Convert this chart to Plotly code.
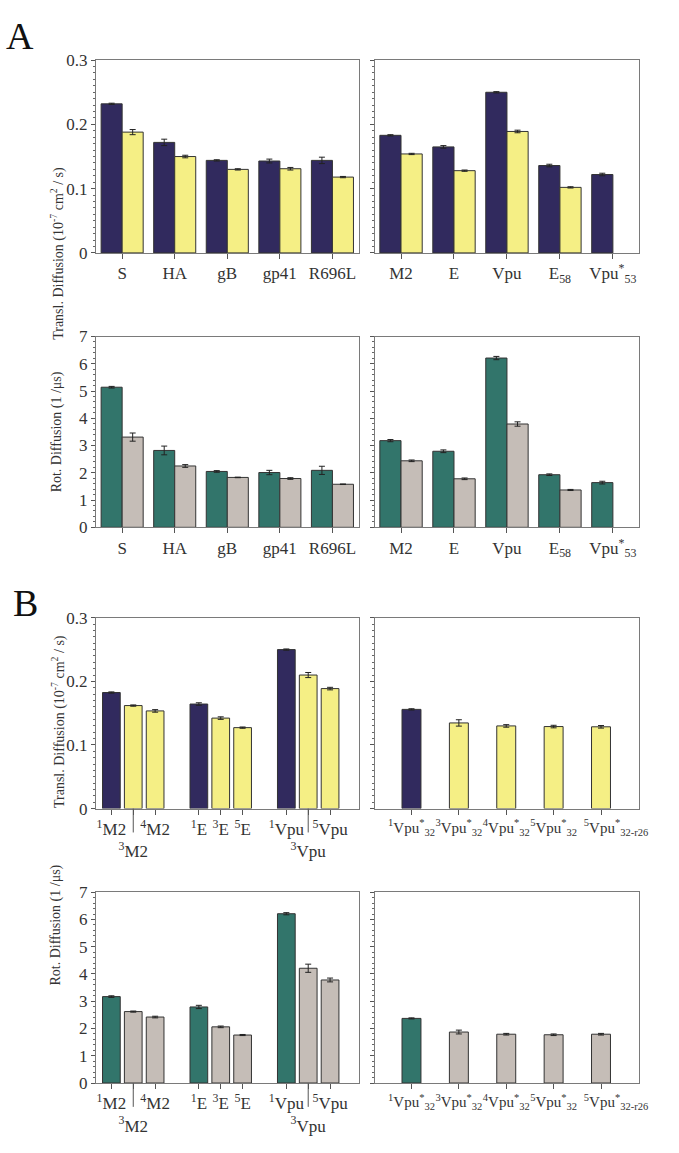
import plotly.graph_objects as go

# ---- data ----
a_left_cats = ["S", "HA", "gB", "gp41", "R696L"]
a_left_labels = ["S", "HA", "gB", "gp41", "R696L"]
a_right_cats = ["M2", "E", "Vpu", "E58", "Vpu*53"]
a_right_labels = ["M2", "E", "Vpu", "E<sub>58</sub>", "Vpu<sup>*</sup><sub>53</sub>"]

a_left_trans_mono = [0.232, 0.172, 0.144, 0.143, 0.144]
a_left_trans_mono_err = [0.001, 0.005, 0.001, 0.003, 0.005]
a_left_trans_olig = [0.188, 0.150, 0.130, 0.131, 0.118]
a_left_trans_olig_err = [0.004, 0.002, 0.001, 0.002, 0.001]
a_right_trans_mono = [0.183, 0.165, 0.250, 0.136, 0.122]
a_right_trans_mono_err = [0.001, 0.002, 0.001, 0.002, 0.002]
a_right_trans_olig = [0.154, 0.128, 0.189, 0.102, None]
a_right_trans_olig_err = [0.001, 0.001, 0.002, 0.001, 0]

a_left_rot_mono = [5.14, 2.82, 2.05, 2.01, 2.09]
a_left_rot_mono_err = [0.03, 0.16, 0.03, 0.08, 0.15]
a_left_rot_olig = [3.31, 2.25, 1.83, 1.79, 1.58]
a_left_rot_olig_err = [0.15, 0.05, 0.01, 0.03, 0.01]
a_right_rot_mono = [3.18, 2.79, 6.21, 1.93, 1.64]
a_right_rot_mono_err = [0.04, 0.05, 0.06, 0.03, 0.05]
a_right_rot_olig = [2.44, 1.78, 3.79, 1.37, None]
a_right_rot_olig_err = [0.03, 0.03, 0.08, 0.02, 0]

# B left: spacer categories keep the three groups apart
b_left_cats = ["1M2", "3M2", "4M2", "gap1", "1E", "3E", "5E", "gap2", "1Vpu", "3Vpu", "5Vpu"]
b_left_state = ["mono", "olig", "olig", None, "mono", "olig", "olig", None, "mono", "olig", "olig"]
b_left_ticks = ["1M2", "3M2", "4M2", "1E", "3E", "5E", "1Vpu", "3Vpu", "5Vpu"]
b_left_labels = ["<sup>1</sup>M2", "<br><sup>3</sup>M2", "<sup>4</sup>M2",
                 "<sup>1</sup>E", "<sup>3</sup>E", "<sup>5</sup>E",
                 "<sup>1</sup>Vpu", "<br><sup>3</sup>Vpu", "<sup>5</sup>Vpu"]
b_left_long_ticks = ["3M2", "3Vpu"]
b_left_trans = [0.1825, 0.162, 0.1536, None, 0.1644, 0.1423, 0.1273, None, 0.250, 0.210, 0.1887]
b_left_trans_err = [0.001, 0.001, 0.002, 0, 0.002, 0.002, 0.001, 0, 0.001, 0.004, 0.002]
b_left_rot = [3.17, 2.62, 2.42, None, 2.79, 2.06, 1.76, None, 6.21, 4.21, 3.78]
b_left_rot_err = [0.03, 0.02, 0.03, 0, 0.06, 0.03, 0.02, 0, 0.04, 0.15, 0.07]

b_right_cats = ["1Vpu*32", "3Vpu*32", "4Vpu*32", "5Vpu*32", "5Vpu*32-r26"]
b_right_state = ["mono", "olig", "olig", "olig", "olig"]
b_right_labels = ["<sup>1</sup>Vpu<sup>*</sup><sub>32</sub>", "<sup>3</sup>Vpu<sup>*</sup><sub>32</sub>",
                  "<sup>4</sup>Vpu<sup>*</sup><sub>32</sub>", "<sup>5</sup>Vpu<sup>*</sup><sub>32</sub>",
                  "&nbsp;" * 8 + "<sup>5</sup>Vpu<sup>*</sup><sub>32-r26</sub>"]
b_right_trans = [0.156, 0.1347, 0.130, 0.129, 0.1286]
b_right_trans_err = [0.001, 0.005, 0.002, 0.002, 0.002]
b_right_rot = [2.37, 1.87, 1.79, 1.77, 1.79]
b_right_rot_err = [0.02, 0.07, 0.03, 0.03, 0.03]

# ---- style ----
NAVY = "#312a5e"
YELLOW = "#f5ef85"
TEAL = "#32756b"
GRAY = "#c5bdb7"
LINE = "#7a7a7a"
FONT = "Liberation Serif"
W, H = 679, 1153

trans_colors = {"mono": NAVY, "olig": YELLOW, None: YELLOW}
rot_colors = {"mono": TEAL, "olig": GRAY, None: GRAY}


def px_x(a, b):
    return [a / W, b / W]


def px_y(top, bottom):
    return [1 - bottom / H, 1 - top / H]


x_left, x_right = px_x(97, 363), px_x(379, 647)
rows = [px_y(52, 248), px_y(333, 527), px_y(619, 813), px_y(898, 1092)]

fig = go.Figure()


def err(values):
    return dict(type="data", array=values, color="#222", thickness=1, width=3)


def bar(x, y, e, color, n, **kw):
    fig.add_trace(go.Bar(
        x=x, y=y, error_y=err(e),
        marker=dict(color=color, line=dict(color="#333", width=1)),
        xaxis=f"x{n}", yaxis=f"y{n}", showlegend=False, **kw,
    ))


# A: grouped monomer / oligomer pairs
bar(a_left_cats, a_left_trans_mono, a_left_trans_mono_err, NAVY, 1, offsetgroup="m")
bar(a_left_cats, a_left_trans_olig, a_left_trans_olig_err, YELLOW, 1, offsetgroup="o")
bar(a_right_cats, a_right_trans_mono, a_right_trans_mono_err, NAVY, 2, offsetgroup="m")
bar(a_right_cats, a_right_trans_olig, a_right_trans_olig_err, YELLOW, 2, offsetgroup="o")
bar(a_left_cats, a_left_rot_mono, a_left_rot_mono_err, TEAL, 3, offsetgroup="m")
bar(a_left_cats, a_left_rot_olig, a_left_rot_olig_err, GRAY, 3, offsetgroup="o")
bar(a_right_cats, a_right_rot_mono, a_right_rot_mono_err, TEAL, 4, offsetgroup="m")
bar(a_right_cats, a_right_rot_olig, a_right_rot_olig_err, GRAY, 4, offsetgroup="o")

# B: single bars, colour by state
bar(b_left_cats, b_left_trans, b_left_trans_err, [trans_colors[s] for s in b_left_state], 5, width=0.81)
bar(b_right_cats, b_right_trans, b_right_trans_err, [trans_colors[s] for s in b_right_state], 6, width=0.4)
bar(b_left_cats, b_left_rot, b_left_rot_err, [rot_colors[s] for s in b_left_state], 7, width=0.81)
bar(b_right_cats, b_right_rot, b_right_rot_err, [rot_colors[s] for s in b_right_state], 8, width=0.4)

tickfont = dict(family=FONT, size=17, color="#333")
small_tickfont = dict(family=FONT, size=15, color="#333")
panels = [
    # n, xdomain, ydomain, kind, cats, tickvals, ticktext, xrange
    (1, x_left, rows[0], "trans", a_left_cats, a_left_cats, a_left_labels, None),
    (2, x_right, rows[0], "trans", a_right_cats, a_right_cats, a_right_labels, None),
    (3, x_left, rows[1], "rot", a_left_cats, a_left_cats, a_left_labels, None),
    (4, x_right, rows[1], "rot", a_right_cats, a_right_cats, a_right_labels, None),
    (5, x_left, rows[2], "trans", b_left_cats, b_left_ticks, b_left_labels, [-0.71, 11.31]),
    (6, x_right, rows[2], "trans", b_right_cats, b_right_cats, b_right_labels, [-0.78, 4.81]),
    (7, x_left, rows[3], "rot", b_left_cats, b_left_ticks, b_left_labels, [-0.71, 11.31]),
    (8, x_right, rows[3], "rot", b_right_cats, b_right_cats, b_right_labels, [-0.78, 4.81]),
]

layout = {}
for n, xd, yd, kind, cats, tv, tt, xr in panels:
    xa = dict(domain=xd, anchor=f"y{n}", type="category", categoryorder="array",
              categoryarray=cats, tickvals=tv, ticktext=tt,
              tickfont=small_tickfont if n in (6, 8) else tickfont,
              tickangle=0, showline=True, linecolor=LINE, linewidth=1, mirror=True,
              ticks="outside", ticklen=5, tickcolor="#555", showgrid=False)
    if xr:
        xa["range"] = xr
    if kind == "trans":
        ya = dict(range=[0, 0.3], dtick=0.1,
                  minor=dict(dtick=0.01, ticks="outside", ticklen=2, tickcolor="#666"))
    else:
        ya = dict(range=[0, 7], dtick=1,
                  minor=dict(dtick=0.2, ticks="outside", ticklen=2, tickcolor="#666"))
    ya.update(domain=yd, anchor=f"x{n}", showline=True, linecolor=LINE, linewidth=1,
              mirror=True, ticks="outside", ticklen=4, tickcolor="#555",
              showgrid=False, zeroline=False, tickfont=tickfont,
              showticklabels=(xd == x_left))
    layout[f"xaxis{n}"] = xa
    layout[f"yaxis{n}"] = ya

fig.update_layout(**layout)

# long ticks leading to the lowered labels in B
for n in (5, 7):
    for cat in b_left_long_ticks:
        fig.add_shape(type="line", xref=f"x{n}", yref=f"y{n} domain",
                      x0=cat, x1=cat, y0=0, y1=-0.125,
                      line=dict(color="#555", width=1))

titles = {
    "trans": "Transl. Diffusion (10<sup>-7</sup> cm<sup>2</sup> / s)",
    "rot": "Rot. Diffusion (1 /μs)",
}
title_shift = {"trans": -8 / H, "rot": 0}
for yd, kind in zip(rows, ["trans", "rot", "trans", "rot"]):
    fig.add_annotation(text=titles[kind], xref="paper", yref="paper",
                       x=47 / W, y=(yd[0] + yd[1]) / 2 + title_shift[kind], textangle=-90,
                       showarrow=False, font=dict(family=FONT, size=14, color="#333"))

for letter, x, y in [("A", 4, 4), ("B", 11, 581)]:
    fig.add_annotation(text=letter, xref="paper", yref="paper",
                       x=x / W, y=1 - y / H, xanchor="left", yanchor="top",
                       showarrow=False, font=dict(family=FONT, size=38, color="#111"))

fig.update_layout(
    width=W, height=H, margin=dict(l=0, r=0, t=0, b=0),
    barmode="group", bargap=0.2, bargroupgap=0,
    paper_bgcolor="white", plot_bgcolor="white",
    font=dict(family=FONT, color="#333"),
)

# drop the browser's default page margin so the figure fills the window
fig.write_html(
    "out.html",
    config={"displayModeBar": False},
    post_script="document.body.style.margin='0';document.body.style.overflow='hidden';",
)
